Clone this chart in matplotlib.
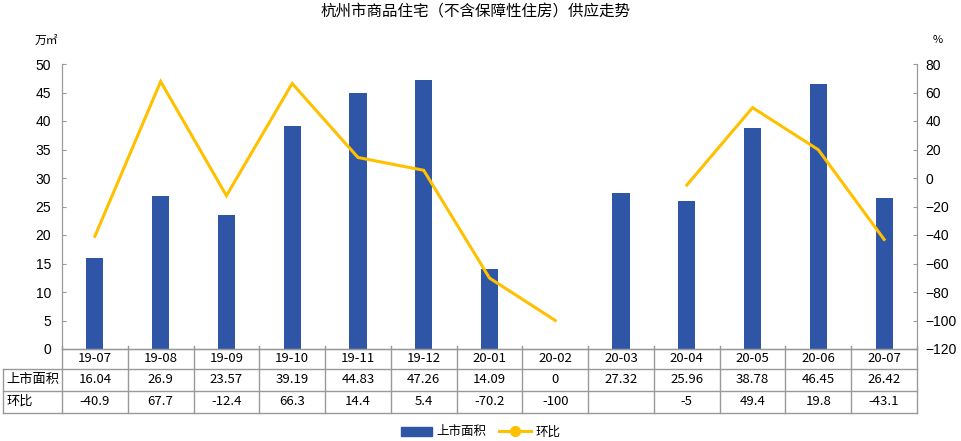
import numpy as np
import matplotlib.pyplot as plt
from matplotlib.lines import Line2D
from matplotlib.patches import Patch

plt.rcParams['font.family'] = ['Noto Sans CJK SC', 'DejaVu Sans']

months = ['19-07', '19-08', '19-09', '19-10', '19-11', '19-12', '20-01',
          '20-02', '20-03', '20-04', '20-05', '20-06', '20-07']
area = [16.04, 26.9, 23.57, 39.19, 44.83, 47.26, 14.09, 0, 27.32,
        25.96, 38.78, 46.45, 26.42]
area_txt = ['16.04', '26.9', '23.57', '39.19', '44.83', '47.26', '14.09',
            '0', '27.32', '25.96', '38.78', '46.45', '26.42']
mom = [-40.9, 67.7, -12.4, 66.3, 14.4, 5.4, -70.2, -100, np.nan,
       -5, 49.4, 19.8, -43.1]
mom_txt = ['-40.9', '67.7', '-12.4', '66.3', '14.4', '5.4', '-70.2', '-100',
           '', '-5', '49.4', '19.8', '-43.1']

bar_color = '#2F56A6'
line_color = '#FFC000'
grid_color = '#999999'

W, H = 961, 441
fig = plt.figure(figsize=(W / 100, H / 100), dpi=100)
x0, x1, y0, y1 = 62, 917, 64, 349
ax = fig.add_axes([x0 / W, 1 - y1 / H, (x1 - x0) / W, (y1 - y0) / H])
ax2 = ax.twinx()

x = np.arange(len(months))
ax.bar(x, area, width=0.26, color=bar_color, zorder=2)
ax2.plot(x, mom, color=line_color, linewidth=2.2, solid_joinstyle='miter')

ax.set_xlim(-0.5, len(months) - 0.5)
ax.set_ylim(0, 50)
ax.set_yticks(np.arange(0, 51, 5))
ax2.set_ylim(-120, 80)
ax2.set_yticks(np.arange(-120, 81, 20))
ax.set_xticks([])

for a in (ax, ax2):
    for s in a.spines.values():
        s.set_color(grid_color)
    a.spines['top'].set_visible(False)
    a.tick_params(axis='y', direction='in', length=3, color=grid_color,
                  labelsize=10, labelfontfamily='Liberation Sans')
ax.tick_params(axis='y', pad=8)
ax2.tick_params(axis='y', pad=6)

fig.text(58 / W, 1 - 40 / H, '万㎡', ha='right', va='center', fontsize=8.5)
fig.text(938 / W, 1 - 40 / H, '%', ha='center', va='center', fontsize=8)
fig.text(476 / W, 1 - 12 / H, '杭州市商品住宅（不含保障性住房）供应走势',
         ha='center', va='center', fontsize=11.2)

# data table under the axis
hpx = y1 - y0
colw = (x1 - x0) / len(months)
r1 = -(368.5 - y1) / hpx
r2 = -(390.5 - y1) / hpx
r3 = -(412.5 - y1) / hpx
left = -0.5 - (x0 - 3) / colw
tr = ax.get_xaxis_transform()
kw = dict(transform=tr, color=grid_color, linewidth=1, clip_on=False)
ax.add_line(Line2D([-0.5, len(months) - 0.5], [0, 0], **kw))
ax.add_line(Line2D([left, len(months) - 0.5], [r1, r1], **kw))
ax.add_line(Line2D([left, len(months) - 0.5], [r2, r2], **kw))
ax.add_line(Line2D([left, len(months) - 0.5], [r3, r3], **kw))
ax.add_line(Line2D([left, left], [r1, r3], **kw))
for i in range(len(months) + 1):
    ax.add_line(Line2D([i - 0.5, i - 0.5], [0.012, r3], **kw))

tkw = dict(transform=tr, ha='center', va='center', fontsize=9.5, clip_on=False)
for i in range(len(months)):
    ax.text(i, r1 / 2, months[i], **tkw)
    ax.text(i, (r1 + r2) / 2, area_txt[i], **tkw)
    ax.text(i, (r2 + r3) / 2, mom_txt[i], **tkw)
ax.text(left + 0.05, (r1 + r2) / 2, '上市面积', transform=tr, ha='left',
        va='center', fontsize=9.5)
ax.text(left + 0.05, (r2 + r3) / 2, '环比', transform=tr, ha='left',
        va='center', fontsize=9.5)

handles = [Patch(color=bar_color, label='上市面积'),
           Line2D([], [], color=line_color, linewidth=2.2, marker='o',
                  markersize=7, label='环比')]
fig.legend(handles=handles, loc='center', ncol=2, frameon=False,
           bbox_to_anchor=(0.5, 1 - 432 / H), fontsize=9,
           handlelength=2.5, columnspacing=1.0, handletextpad=0.4)

fig.savefig('out.png', dpi=100)
